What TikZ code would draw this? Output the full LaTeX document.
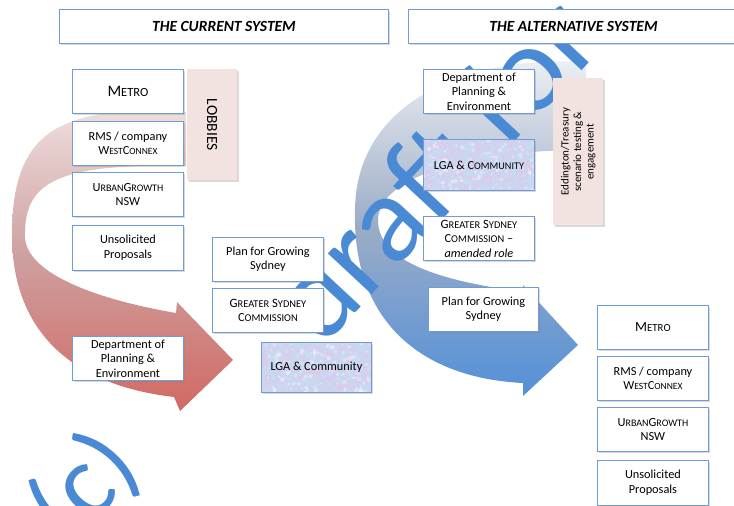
\documentclass[tikz,border=0pt]{standalone}
\usepackage{fontspec}
\setmainfont{Carlito}
\usetikzlibrary{shadows,calc}
\definecolor{bord}{RGB}{112,156,214}
\definecolor{pinkc}{RGB}{242,227,225}
\definecolor{wm}{RGB}{74,138,212}
\definecolor{lgabase}{RGB}{206,212,240}
\definecolor{lgapink}{RGB}{230,198,232}
\definecolor{lgacyan}{RGB}{192,226,244}
\definecolor{rtop}{RGB}{238,220,218}
\definecolor{rmid}{RGB}{198,146,146}
\definecolor{rbot}{RGB}{204,84,76}
\definecolor{btop}{RGB}{238,240,244}
\definecolor{bmid}{RGB}{150,168,195}
\definecolor{bbot}{RGB}{74,138,214}
\newcommand\smc[2][9.5]{{\fontsize{#1}{14}\selectfont #2}}
\begin{document}
\begin{tikzpicture}[x=1pt,y=-1pt,
  bx/.style n args={2}{minimum width=#1pt, minimum height=#2pt},
  box/.style={draw=bord, line width=0.9pt, fill=white, anchor=north west, inner sep=2pt, align=center,
    drop shadow={shadow xshift=1.6pt,shadow yshift=-1.6pt,opacity=0.3},
    font=\fontsize{12.3}{14.5}\selectfont},
  titlebox/.style={box, font=\bfseries\itshape\fontsize{15.5}{18}\selectfont},
  pinkbox/.style={fill=pinkc, draw=none, anchor=north west, inner sep=0pt, align=center,
    drop shadow={shadow xshift=1.6pt,shadow yshift=-1.6pt,opacity=0.3}},
  wmtext/.style={text=wm, inner sep=0pt, rotate=47, anchor=base west, font=\fontsize{125}{125}\selectfont},
  lga/.style={box, fill=lgabase, path picture={
      \foreach \k in {1,...,260}{
        \pgfmathsetmacro\ra{rnd}\pgfmathsetmacro\rb{rnd}\pgfmathsetmacro\rc{1+2.2*rnd}
        \fill[lgapink, opacity=.45] ($(path picture bounding box.north west)+(\ra*115,\rb*55)$) circle (\rc pt);}
      \foreach \k in {1,...,260}{
        \pgfmathsetmacro\ra{rnd}\pgfmathsetmacro\rb{rnd}\pgfmathsetmacro\rc{1+2.2*rnd}
        \fill[lgacyan, opacity=.45] ($(path picture bounding box.north west)+(\ra*115,\rb*55)$) circle (\rc pt);}
      \foreach \k in {1,...,150}{
        \pgfmathsetmacro\ra{rnd}\pgfmathsetmacro\rb{rnd}\pgfmathsetmacro\rc{0.8+1.5*rnd}
        \fill[white, opacity=.35] ($(path picture bounding box.north west)+(\ra*115,\rb*55)$) circle (\rc pt);}
    }}
]
\pgfmathsetseed{11}
\useasboundingbox (0,0) rectangle (734,506);
\clip (0,0) rectangle (734,506);

% blue curved arrow (alternative system)
\path[top color=btop, bottom color=bbot, middle color=bmid, fill opacity=0.95]
  (586,62) .. controls (470,55) and (356,100) .. (355,210)
  .. controls (352,320) and (420,378) .. (523,383)
  -- (523,396) -- (578,345) -- (523,285) -- (523,292)
  .. controls (450,282) and (380,265) .. (378,222)
  .. controls (376,180) and (460,150) .. (586,150) -- cycle;

% watermark
\node[wmtext, font=\fontsize{105}{105}\selectfont] (wmc) at (70,549) {(c)};
\node[wmtext] (wmd) at (322,349) {draft for};

% red curved arrow (current system)
\path[top color=rtop, bottom color=rbot, middle color=rmid, fill opacity=0.88]
  (186,112) .. controls (60,105) and (12,130) .. (12,235)
  .. controls (12,330) and (70,385) .. (174,397)
  -- (180,411) -- (233,360) -- (177,302) -- (176,313)
  .. controls (100,300) and (28,275) .. (25,238)
  .. controls (24,185) and (50,163) .. (186,166) -- cycle;

% titles
\node[titlebox, bx={329}{34}] (cur) at (59,9) {THE CURRENT SYSTEM};
\node[titlebox, bx={330}{34}] (alt) at (408,9) {THE ALTERNATIVE SYSTEM};

% current system
\node[box, bx={111}{44}] (lmetro) at (72,69) {\fontsize{16}{16}\selectfont M\smc[12.5]{ETRO}};
\node[box, bx={111}{44}] (lrms) at (72,121) {RMS / company\\W\smc{EST}C\smc{ONNEX}};
\node[box, bx={111}{44}] (lugr) at (72,172) {\fontsize{12.4}{14}\selectfont U\smc[10]{RBAN}G\smc[10]{ROWTH}\\NSW};
\node[box, bx={111}{45}] (lunsol) at (72,225) {Unsolicited\\Proposals};
\node[pinkbox, bx={50}{111}] (lobbies) at (187,69) {};
\node[rotate=-90, font=\fontsize{15.5}{17}\selectfont] (lobtxt) at (lobbies.center) {LOBBIES};
\node[box, bx={111}{44}] (lplan) at (212,237) {Plan for Growing\\Sydney};
\node[box, bx={111}{44}] (lgsc) at (212,288) {\fontsize{12.7}{14}\selectfont G\smc[10.4]{REATER} S\smc[10.4]{YDNEY}\\C\smc[10.4]{OMMISSION}};
\node[box, bx={111}{44}] (ldpe) at (72,336) {Department of\\Planning \&\\Environment};
\node[lga, bx={110}{50}] (llga) at (261,342) {LGA \& Community};

% alternative system
\node[box, bx={111}{44}] (rdpe) at (423,69) {Department of\\Planning \&\\Environment};
\node[pinkbox, bx={50}{147}] (edd) at (553,78) {};
\node[rotate=90, align=center, font=\fontsize{11}{12.5}\selectfont] (eddtxt) at (edd.center) {Eddington/Treasury\\scenario testing \&\\engagement};
\node[lga, bx={111}{51}] (rlga) at (423,139) {LGA \& C\smc[10.2]{OMMUNITY}};
\node[box, bx={111}{44}] (rgsc) at (423,216) {\fontsize{12.7}{14}\selectfont G\smc[10.4]{REATER} S\smc[10.4]{YDNEY}\\C\smc[10.4]{OMMISSION} –\\\textit{amended role}};
\node[box, bx={110}{44}] (rplan) at (428,287) {Plan for Growing\\Sydney};
\node[box, bx={111}{44}] (rmetro) at (597,305) {\fontsize{14}{14}\selectfont M\smc[10.8]{ETRO}};
\node[box, bx={111}{44}] (rrms) at (597,356) {RMS / company\\W\smc{EST}C\smc{ONNEX}};
\node[box, bx={111}{44}] (rugr) at (597,407) {\fontsize{12.4}{14}\selectfont U\smc[10]{RBAN}G\smc[10]{ROWTH}\\NSW};
\node[box, bx={111}{45}] (runsol) at (597,460) {Unsolicited\\Proposals};
\end{tikzpicture}
\end{document}
